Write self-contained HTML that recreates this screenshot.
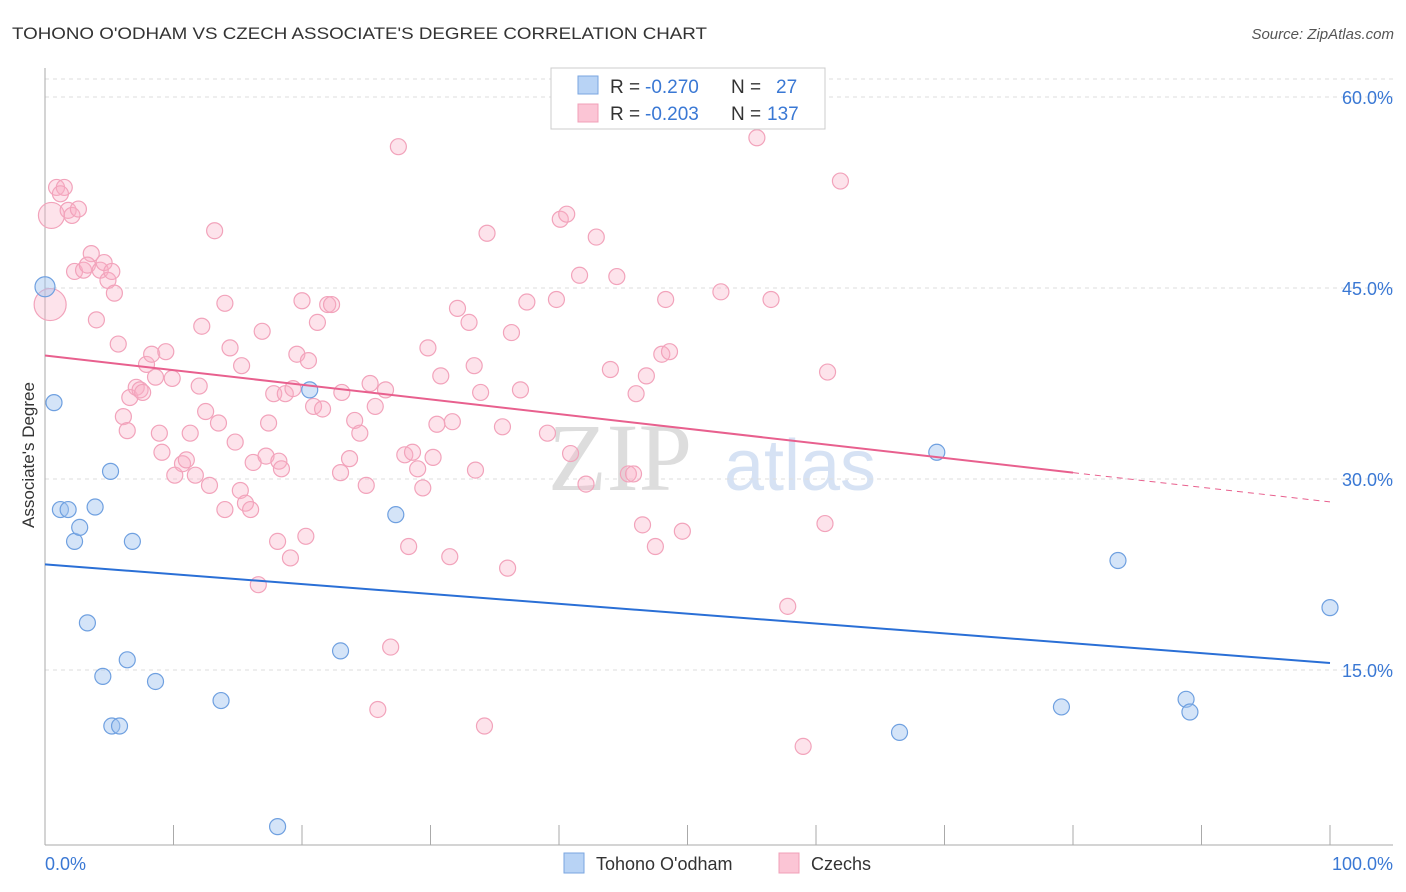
<!DOCTYPE html>
<html><head><meta charset="utf-8"><style>
body{margin:0;background:#fff;font-family:"Liberation Sans",sans-serif;}
</style></head><body>
<svg id="chart" width="1406" height="892" xmlns="http://www.w3.org/2000/svg" style="display:block">
<text x="12" y="39" font-size="17" fill="#333" textLength="695" lengthAdjust="spacingAndGlyphs" font-family="Liberation Sans, sans-serif">TOHONO O'ODHAM VS CZECH ASSOCIATE'S DEGREE CORRELATION CHART</text>
<text x="1394" y="39" font-size="15" fill="#555" text-anchor="end" font-style="italic">Source: ZipAtlas.com</text>
<g>
<text x="620" y="490" font-size="96" fill="#ddd" text-anchor="middle" font-family="Liberation Serif, serif">ZIP</text>
<text x="800" y="490" font-size="72" fill="#d6e2f4" text-anchor="middle">atlas</text>
</g>
<g id="grid"></g><g id="axes"></g><g id="marks"></g>
<text transform="translate(34,455) rotate(-90)" font-size="17" fill="#333" text-anchor="middle">Associate's Degree</text>
<g>
<rect x="551" y="68" width="274" height="61" fill="#fff" stroke="#ccc"/>
<rect x="578" y="76" width="20" height="18" fill="#b8d3f5" stroke="#7aa6e0"/>
<rect x="578" y="104" width="20" height="18" fill="#fbc5d5" stroke="#f0a0b8"/>
<text x="610" y="93" font-size="19" fill="#333">R =</text>
<text x="645" y="93" font-size="19" fill="#3a78d4">-0.270</text>
<text x="731" y="93" font-size="19" fill="#333">N =</text>
<text x="776" y="93" font-size="19" fill="#3a78d4">27</text>
<text x="610" y="120" font-size="19" fill="#333">R =</text>
<text x="645" y="120" font-size="19" fill="#3a78d4">-0.203</text>
<text x="731" y="120" font-size="19" fill="#333">N =</text>
<text x="767" y="120" font-size="19" fill="#3a78d4">137</text>
</g>
<g>
<rect x="564" y="853" width="20" height="20" fill="#b8d3f5" stroke="#7aa6e0"/>
<text x="596" y="870" font-size="18" fill="#333">Tohono O'odham</text>
<rect x="779" y="853" width="20" height="20" fill="#fbc5d5" stroke="#f0a0b8"/>
<text x="811" y="870" font-size="18" fill="#333">Czechs</text>
</g>
</svg>
<script>
const yTicks=[15,30,45,60];
const yTickLabels=["15.0%","30.0%","45.0%","60.0%"];
const xTickLabels=["0.0%","100.0%"];
const blueX=[0,0.7,1.2,1.8,2.3,2.7,3.9,5.1,3.3,4.5,6.4,6.8,5.2,5.8,8.6,13.7,20.6,23.0,27.3,18.1,69.4,83.5,100,79.1,88.8,89.1,66.5];
const blueY=[45.1,36.0,27.6,27.6,25.1,26.2,27.8,30.6,18.7,14.5,15.8,25.1,10.6,10.6,14.1,12.6,37.0,16.5,27.2,2.7,32.1,23.6,19.9,12.1,12.7,11.7,10.1];
const pinkX=[0.5,0.4,0.9,1.5,1.2,1.8,2.1,2.6,2.3,3.0,3.6,3.3,4.3,4.6,4.9,5.2,5.4,4.0,5.7,6.1,6.4,6.6,7.1,7.4,7.6,7.9,8.3,8.6,9.4,9.9,8.9,9.1,10.1,10.7,11.0,11.3,11.7,12.0,12.5,12.8,13.2,12.2,13.5,14.0,14.0,14.4,14.8,15.2,15.3,15.6,16.0,16.2,16.9,17.2,17.4,17.8,18.1,18.2,18.4,18.7,19.1,19.3,19.6,20.0,20.3,20.5,20.9,21.2,21.6,22.0,22.3,23.0,23.1,23.7,24.1,24.5,25.0,25.3,25.7,25.9,26.5,26.9,27.5,28.0,28.3,28.6,29.0,29.4,29.8,30.2,30.5,30.8,31.5,31.7,32.1,33.0,33.4,33.5,33.9,34.4,34.2,35.6,36.0,36.3,37.0,37.5,39.1,39.8,40.1,40.6,40.9,41.6,42.1,42.9,44.0,44.5,45.4,45.8,46.0,46.5,46.8,47.5,48.0,48.3,48.6,49.6,52.6,55.4,56.5,57.8,59.0,60.9,60.7,61.9,16.6];
const pinkY=[50.7,43.7,52.9,52.9,52.4,51.1,50.7,51.2,46.3,46.4,47.7,46.8,46.4,47.0,45.6,46.3,44.6,42.5,40.6,34.9,33.8,36.4,37.2,37.0,36.8,39.0,39.8,38.0,40.0,37.9,33.6,32.1,30.3,31.2,31.5,33.6,30.3,37.3,35.3,29.5,49.5,42.0,34.4,27.6,43.8,40.3,32.9,29.1,38.9,28.1,27.6,31.3,41.6,31.8,34.4,36.7,25.1,31.4,30.8,36.7,23.8,37.1,39.8,44.0,25.5,39.3,35.7,42.3,35.5,43.7,43.7,30.5,36.8,31.6,34.6,33.6,29.5,37.5,35.7,11.9,37.0,16.8,56.1,31.9,24.7,32.1,30.8,29.3,40.3,31.7,34.3,38.1,23.9,34.5,43.4,42.3,38.9,30.7,36.8,49.3,10.6,34.1,23.0,41.5,37.0,43.9,33.6,44.1,50.4,50.8,32.0,46.0,29.6,49.0,38.6,45.9,30.4,30.4,36.7,26.4,38.1,24.7,39.8,44.1,40.0,25.9,44.7,56.8,44.1,20.0,9.0,38.4,26.5,53.4,21.7];
const blueTrend=[23.3,15.55];
const pinkTrend=[39.7,28.2];
const NS="http://www.w3.org/2000/svg";
const X=v=>45+v*12.85, Y=v=>861-v*12.733;
function mk(t,a,p){const e=document.createElementNS(NS,t);for(const k in a)e.setAttribute(k,a[k]);p.appendChild(e);return e;}
const grid=document.getElementById('grid'),axes=document.getElementById('axes'),marks=document.getElementById('marks');
yTicks.forEach((t,i)=>{
 const l=mk('line',{x1:45,x2:1393,y1:Y(t),y2:Y(t),stroke:'#ddd','stroke-dasharray':'4,4'},grid);
 
 
 const tx=mk('text',{x:1393,y:Y(t)+7,'font-size':18,fill:'#3a78d4','text-anchor':'end'},axes);
 tx.textContent=yTickLabels[i];
 
 
});
const tl=mk('line',{x1:45,x2:1393,y1:Y(60)-18,y2:Y(60)-18,stroke:'#ddd','stroke-dasharray':'4,4'},grid);


const ya=mk('line',{x1:45,x2:45,y1:68,y2:845,stroke:'#aaa'},axes);


const xa=mk('line',{x1:45,x2:1393,y1:845,y2:845,stroke:'#aaa'},axes);


for(let i=0;i<=10;i++){const t=mk('line',{x1:X(i*10),x2:X(i*10),y1:825,y2:845,stroke:'#aaa'},axes);
 
 }
[[0,'start',45],[100,'end',1393]].forEach((d,i)=>{const t=mk('text',{x:d[2],y:870,'font-size':18,fill:'#3a78d4','text-anchor':d[1]},axes);t.textContent=xTickLabels[i];
 
 });
pinkX.forEach((x,i)=>{const big=(i<2);const c=mk('circle',{cx:X(x),cy:Y(pinkY[i]),r:big?(i==1?16:13):8,fill:'rgba(248,175,198,0.35)',stroke:'#f2a3bb','stroke-width':1.2},marks);
 
 });
blueX.forEach((x,i)=>{const c=mk('circle',{cx:X(x),cy:Y(blueY[i]),r:i==0?10:8,fill:'rgba(160,195,240,0.45)',stroke:'#6fa0e0','stroke-width':1.2},marks);
 
 });
const pAt=x=>pinkTrend[0]+(pinkTrend[1]-pinkTrend[0])*x/100;
const bl=mk('line',{x1:X(0),y1:Y(blueTrend[0]),x2:X(100),y2:Y(blueTrend[1]),stroke:'#2a6fd6','stroke-width':2},marks);


const pl=mk('line',{x1:X(0),y1:Y(pAt(0)),x2:X(80),y2:Y(pAt(80)),stroke:'#e8608e','stroke-width':2},marks);


const pd=mk('line',{x1:X(80),y1:Y(pAt(80)),x2:X(100),y2:Y(pAt(100)),stroke:'#e8608e','stroke-width':1,'stroke-dasharray':'6,5'},marks);


</script>
</body></html>
